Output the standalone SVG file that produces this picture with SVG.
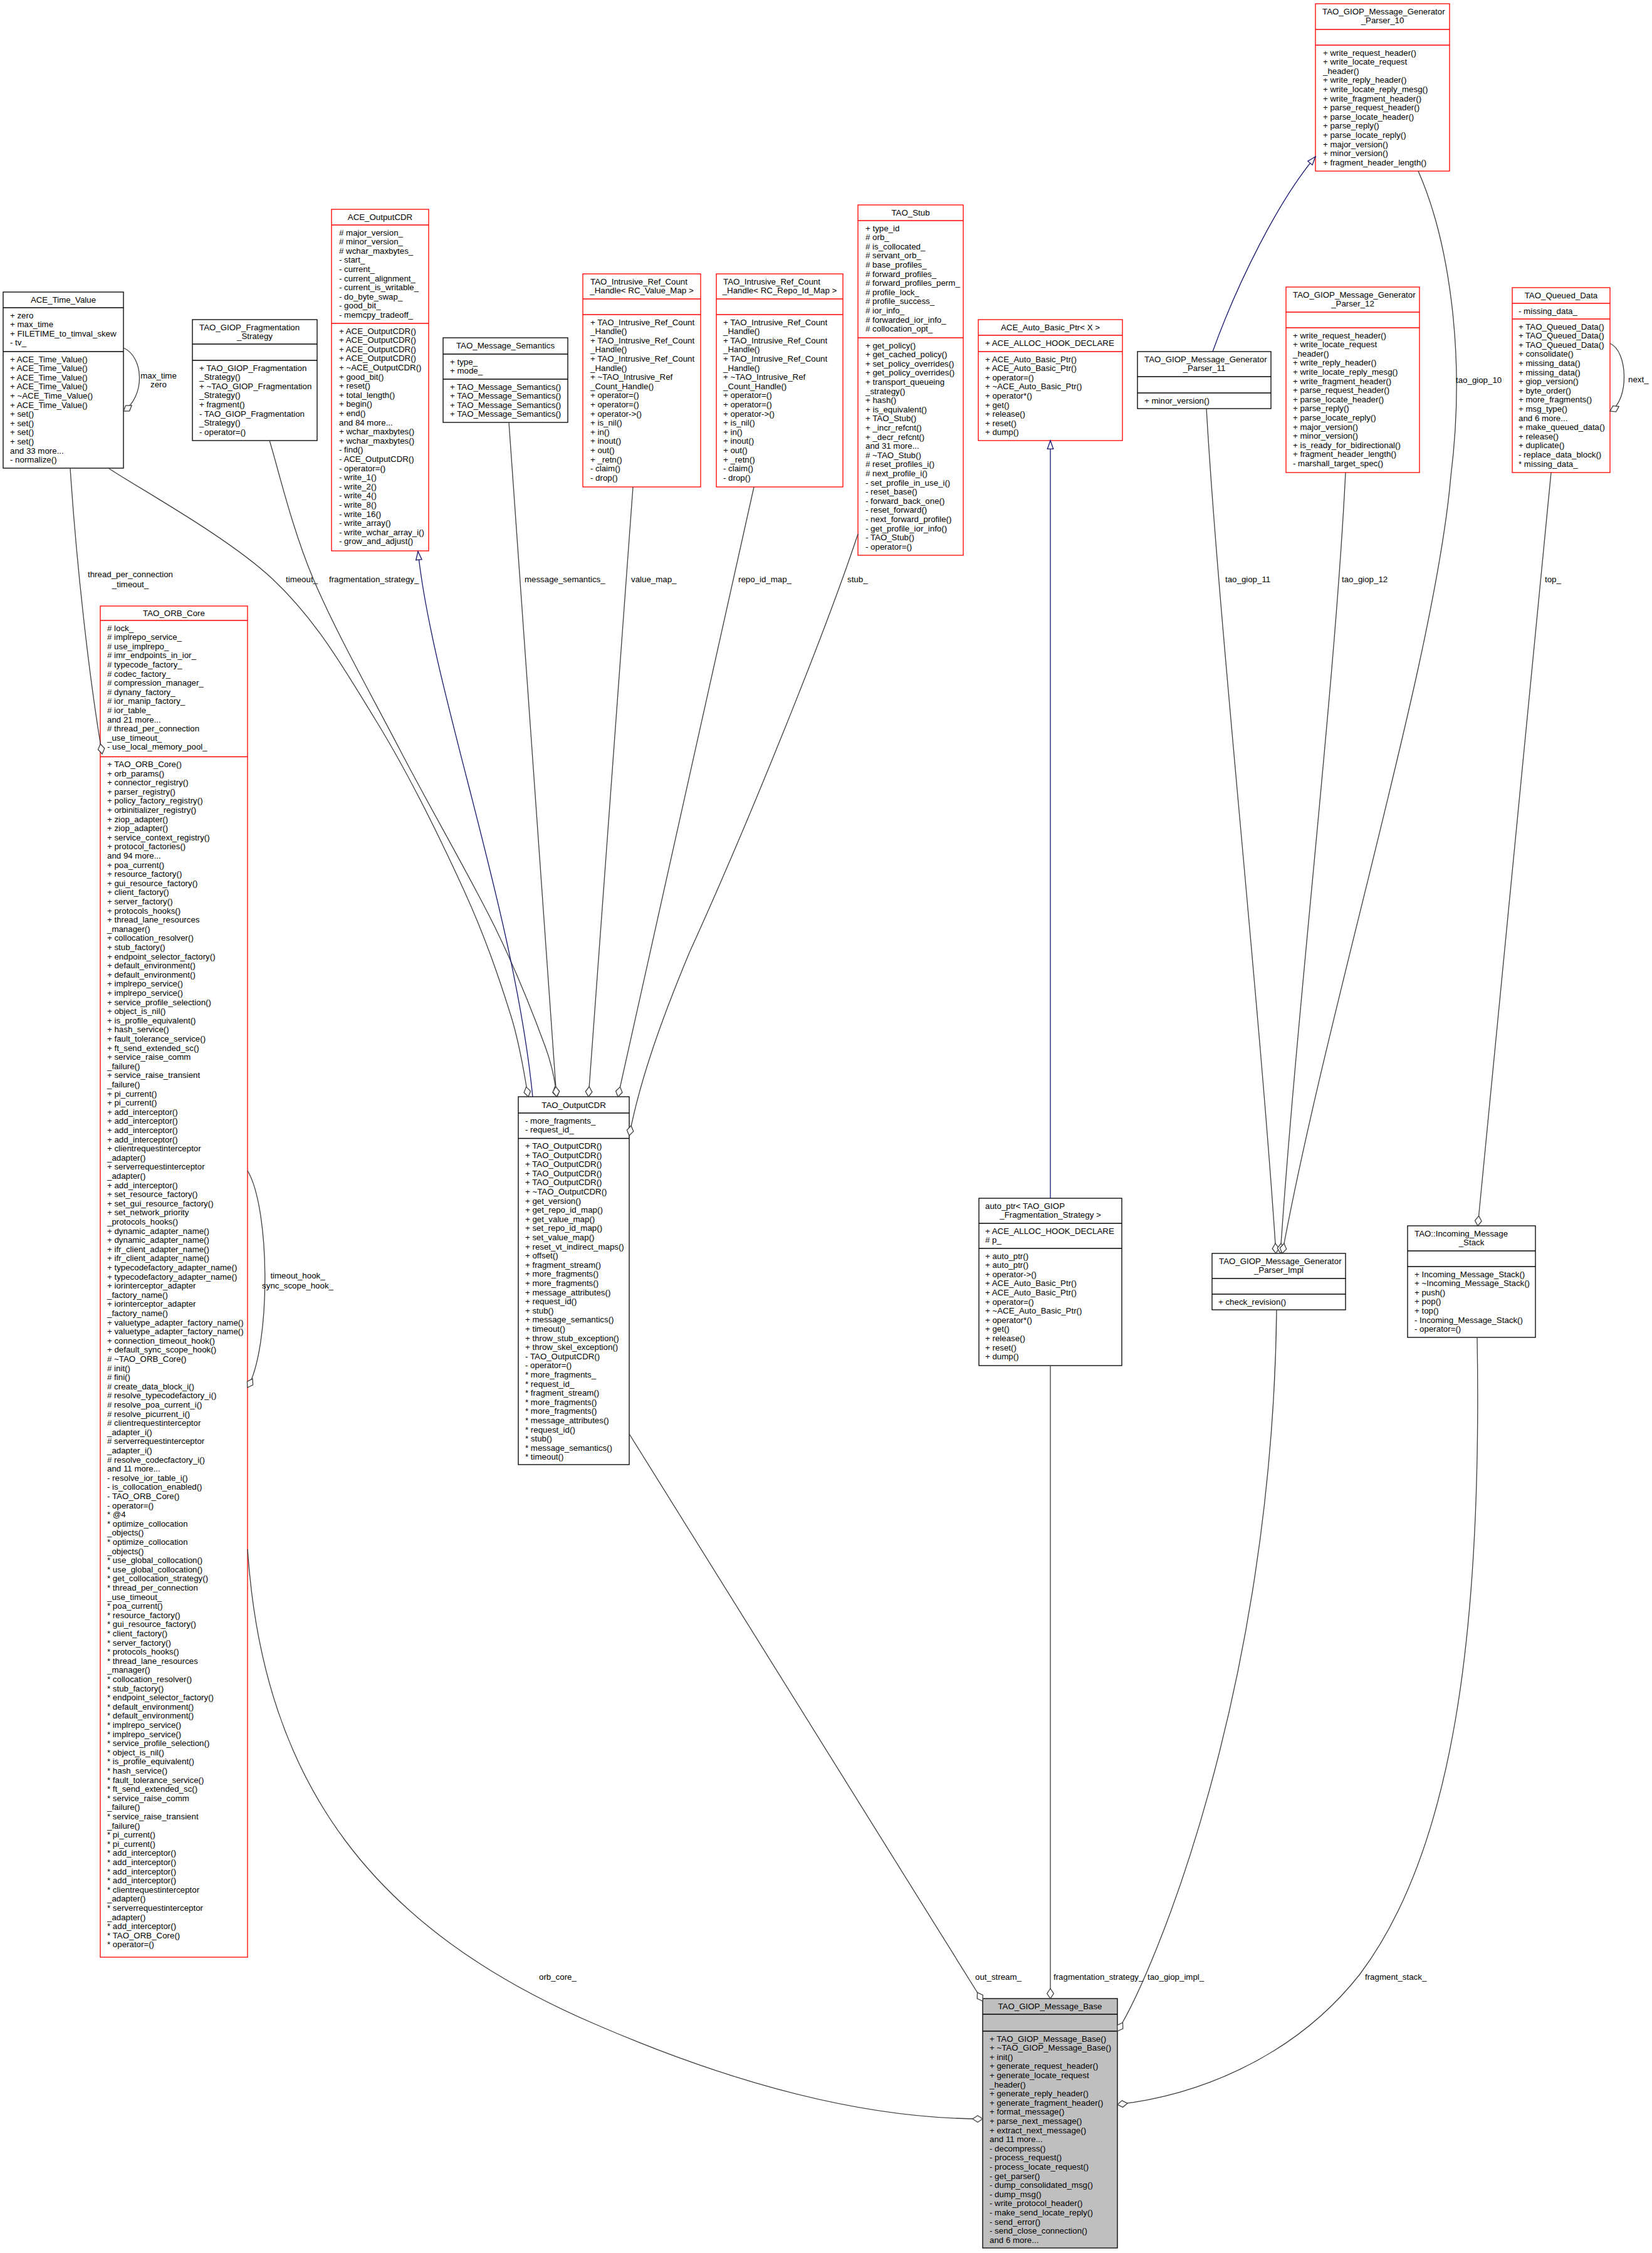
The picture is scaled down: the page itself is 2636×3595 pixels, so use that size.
<svg xmlns="http://www.w3.org/2000/svg" width="2636" height="3595" viewBox="0 0 2636 3595">
<style>
text{font-family:'Liberation Sans',Arial,Helvetica,sans-serif;font-size:13.3px;fill:#000}
.mid{text-anchor:middle}
.box{fill:#fff;stroke-width:1.33}
.red{stroke:#ff0000;fill:none;stroke-width:1.33}
.blk{stroke:#000;fill:none;stroke-width:1.33}
.main{fill:#bfbfbf;stroke:#000;stroke-width:1.33}
.edge{fill:none;stroke:#404040;stroke-width:1.33}
.inh{fill:none;stroke:#191970;stroke-width:1.33}
</style>
<defs>
<marker id="dia" markerUnits="userSpaceOnUse" viewBox="-2 -8 20 16" markerWidth="20" markerHeight="16" refX="16" refY="0" orient="auto">
<path d="M0,0 L8,-5.3 L16,0 L8,5.3 Z" fill="#fff" stroke="#404040" stroke-width="1.33"/>
</marker>
<marker id="tri" markerUnits="userSpaceOnUse" viewBox="-2 -7 17 14" markerWidth="17" markerHeight="14" refX="13.3" refY="0" orient="auto">
<path d="M0,-4.7 L13.3,0 L0,4.7 Z" fill="#fff" stroke="#191970" stroke-width="1.33"/>
</marker>
</defs>
<rect width="2636" height="3595" fill="#fff"/>

<g id="node-parser10">
<rect class="box red" x="2099" y="6" width="214" height="267"/>
<path class="red" d="M2099,47H2313M2099,72H2313"/>
<text x="2110" y="22.5">TAO_GIOP_Message_Generator</text>
<text class="mid" x="2206" y="37.1">_Parser_10</text>
<text y="88.5"><tspan x="2111">+ write_request_header()</tspan><tspan x="2111" dy="14.6">+ write_locate_request</tspan><tspan x="2111" dy="14.6">_header()</tspan><tspan x="2111" dy="14.6">+ write_reply_header()</tspan><tspan x="2111" dy="14.6">+ write_locate_reply_mesg()</tspan><tspan x="2111" dy="14.6">+ write_fragment_header()</tspan><tspan x="2111" dy="14.6">+ parse_request_header()</tspan><tspan x="2111" dy="14.6">+ parse_locate_header()</tspan><tspan x="2111" dy="14.6">+ parse_reply()</tspan><tspan x="2111" dy="14.6">+ parse_locate_reply()</tspan><tspan x="2111" dy="14.6">+ major_version()</tspan><tspan x="2111" dy="14.6">+ minor_version()</tspan><tspan x="2111" dy="14.6">+ fragment_header_length()</tspan></text>
</g>

<g id="node-ace-time-value">
<rect class="box blk" x="5" y="466" width="192" height="281"/>
<path class="blk" d="M5,491H197M5,561H197"/>
<text class="mid" x="101" y="482.5">ACE_Time_Value</text>
<text y="507.5"><tspan x="16">+ zero</tspan><tspan x="16" dy="14.6">+ max_time</tspan><tspan x="16" dy="14.6">+ FILETIME_to_timval_skew</tspan><tspan x="16" dy="14.6">- tv_</tspan></text>
<text y="577.5"><tspan x="16">+ ACE_Time_Value()</tspan><tspan x="16" dy="14.6">+ ACE_Time_Value()</tspan><tspan x="16" dy="14.6">+ ACE_Time_Value()</tspan><tspan x="16" dy="14.6">+ ACE_Time_Value()</tspan><tspan x="16" dy="14.6">+ ~ACE_Time_Value()</tspan><tspan x="16" dy="14.6">+ ACE_Time_Value()</tspan><tspan x="16" dy="14.6">+ set()</tspan><tspan x="16" dy="14.6">+ set()</tspan><tspan x="16" dy="14.6">+ set()</tspan><tspan x="16" dy="14.6">+ set()</tspan><tspan x="16" dy="14.6">and 33 more...</tspan><tspan x="16" dy="14.6">- normalize()</tspan></text>
</g>

<g id="node-frag-strategy">
<rect class="box blk" x="307" y="510" width="199" height="193"/>
<path class="blk" d="M307,549H506M307,575H506"/>
<text x="318" y="526.5">TAO_GIOP_Fragmentation</text>
<text class="mid" x="406.5" y="541.1">_Strategy</text>
<text y="591.5"><tspan x="318">+ TAO_GIOP_Fragmentation</tspan><tspan x="318" dy="14.6">_Strategy()</tspan><tspan x="318" dy="14.6">+ ~TAO_GIOP_Fragmentation</tspan><tspan x="318" dy="14.6">_Strategy()</tspan><tspan x="318" dy="14.6">+ fragment()</tspan><tspan x="318" dy="14.6">- TAO_GIOP_Fragmentation</tspan><tspan x="318" dy="14.6">_Strategy()</tspan><tspan x="318" dy="14.6">- operator=()</tspan></text>
</g>

<g id="node-ace-outputcdr">
<rect class="box red" x="529" y="334" width="155" height="545"/>
<path class="red" d="M529,359H684M529,516H684"/>
<text class="mid" x="606.5" y="350.5">ACE_OutputCDR</text>
<text y="375.5"><tspan x="541"># major_version_</tspan><tspan x="541" dy="14.6"># minor_version_</tspan><tspan x="541" dy="14.6"># wchar_maxbytes_</tspan><tspan x="541" dy="14.6">- start_</tspan><tspan x="541" dy="14.6">- current_</tspan><tspan x="541" dy="14.6">- current_alignment_</tspan><tspan x="541" dy="14.6">- current_is_writable_</tspan><tspan x="541" dy="14.6">- do_byte_swap_</tspan><tspan x="541" dy="14.6">- good_bit_</tspan><tspan x="541" dy="14.6">- memcpy_tradeoff_</tspan></text>
<text y="532.5"><tspan x="541">+ ACE_OutputCDR()</tspan><tspan x="541" dy="14.6">+ ACE_OutputCDR()</tspan><tspan x="541" dy="14.6">+ ACE_OutputCDR()</tspan><tspan x="541" dy="14.6">+ ACE_OutputCDR()</tspan><tspan x="541" dy="14.6">+ ~ACE_OutputCDR()</tspan><tspan x="541" dy="14.6">+ good_bit()</tspan><tspan x="541" dy="14.6">+ reset()</tspan><tspan x="541" dy="14.6">+ total_length()</tspan><tspan x="541" dy="14.6">+ begin()</tspan><tspan x="541" dy="14.6">+ end()</tspan><tspan x="541" dy="14.6">and 84 more...</tspan><tspan x="541" dy="14.6">+ wchar_maxbytes()</tspan><tspan x="541" dy="14.6">+ wchar_maxbytes()</tspan><tspan x="541" dy="14.6">- find()</tspan><tspan x="541" dy="14.6">- ACE_OutputCDR()</tspan><tspan x="541" dy="14.6">- operator=()</tspan><tspan x="541" dy="14.6">- write_1()</tspan><tspan x="541" dy="14.6">- write_2()</tspan><tspan x="541" dy="14.6">- write_4()</tspan><tspan x="541" dy="14.6">- write_8()</tspan><tspan x="541" dy="14.6">- write_16()</tspan><tspan x="541" dy="14.6">- write_array()</tspan><tspan x="541" dy="14.6">- write_wchar_array_i()</tspan><tspan x="541" dy="14.6">- grow_and_adjust()</tspan></text>
</g>

<g id="node-message-semantics">
<rect class="box blk" x="707" y="539" width="199" height="135"/>
<path class="blk" d="M707,565H906M707,605H906"/>
<text class="mid" x="806.5" y="555.5">TAO_Message_Semantics</text>
<text y="581.5"><tspan x="718">+ type_</tspan><tspan x="718" dy="14.6">+ mode_</tspan></text>
<text y="621.5"><tspan x="718">+ TAO_Message_Semantics()</tspan><tspan x="718" dy="14.6">+ TAO_Message_Semantics()</tspan><tspan x="718" dy="14.6">+ TAO_Message_Semantics()</tspan><tspan x="718" dy="14.6">+ TAO_Message_Semantics()</tspan></text>
</g>

<g id="node-handle-value-map">
<rect class="box red" x="930" y="437" width="188" height="340"/>
<path class="red" d="M930,477H1118M930,502H1118"/>
<text x="942" y="453.5">TAO_Intrusive_Ref_Count</text>
<text class="mid" x="1024" y="468.1">_Handle&lt; RC_Value_Map &gt;</text>
<text y="518.5"><tspan x="942">+ TAO_Intrusive_Ref_Count</tspan><tspan x="942" dy="14.6">_Handle()</tspan><tspan x="942" dy="14.6">+ TAO_Intrusive_Ref_Count</tspan><tspan x="942" dy="14.6">_Handle()</tspan><tspan x="942" dy="14.6">+ TAO_Intrusive_Ref_Count</tspan><tspan x="942" dy="14.6">_Handle()</tspan><tspan x="942" dy="14.6">+ ~TAO_Intrusive_Ref</tspan><tspan x="942" dy="14.6">_Count_Handle()</tspan><tspan x="942" dy="14.6">+ operator=()</tspan><tspan x="942" dy="14.6">+ operator=()</tspan><tspan x="942" dy="14.6">+ operator-&gt;()</tspan><tspan x="942" dy="14.6">+ is_nil()</tspan><tspan x="942" dy="14.6">+ in()</tspan><tspan x="942" dy="14.6">+ inout()</tspan><tspan x="942" dy="14.6">+ out()</tspan><tspan x="942" dy="14.6">+ _retn()</tspan><tspan x="942" dy="14.6">- claim()</tspan><tspan x="942" dy="14.6">- drop()</tspan></text>
</g>

<g id="node-handle-repo-id-map">
<rect class="box red" x="1143" y="437" width="202" height="340"/>
<path class="red" d="M1143,477H1345M1143,502H1345"/>
<text x="1154" y="453.5">TAO_Intrusive_Ref_Count</text>
<text class="mid" x="1244" y="468.1">_Handle&lt; RC_Repo_Id_Map &gt;</text>
<text y="518.5"><tspan x="1154">+ TAO_Intrusive_Ref_Count</tspan><tspan x="1154" dy="14.6">_Handle()</tspan><tspan x="1154" dy="14.6">+ TAO_Intrusive_Ref_Count</tspan><tspan x="1154" dy="14.6">_Handle()</tspan><tspan x="1154" dy="14.6">+ TAO_Intrusive_Ref_Count</tspan><tspan x="1154" dy="14.6">_Handle()</tspan><tspan x="1154" dy="14.6">+ ~TAO_Intrusive_Ref</tspan><tspan x="1154" dy="14.6">_Count_Handle()</tspan><tspan x="1154" dy="14.6">+ operator=()</tspan><tspan x="1154" dy="14.6">+ operator=()</tspan><tspan x="1154" dy="14.6">+ operator-&gt;()</tspan><tspan x="1154" dy="14.6">+ is_nil()</tspan><tspan x="1154" dy="14.6">+ in()</tspan><tspan x="1154" dy="14.6">+ inout()</tspan><tspan x="1154" dy="14.6">+ out()</tspan><tspan x="1154" dy="14.6">+ _retn()</tspan><tspan x="1154" dy="14.6">- claim()</tspan><tspan x="1154" dy="14.6">- drop()</tspan></text>
</g>

<g id="node-tao-stub">
<rect class="box red" x="1369" y="327" width="168" height="559"/>
<path class="red" d="M1369,352H1537M1369,539H1537"/>
<text class="mid" x="1453" y="343.5">TAO_Stub</text>
<text y="368.5"><tspan x="1381">+ type_id</tspan><tspan x="1381" dy="14.6"># orb_</tspan><tspan x="1381" dy="14.6"># is_collocated_</tspan><tspan x="1381" dy="14.6"># servant_orb_</tspan><tspan x="1381" dy="14.6"># base_profiles_</tspan><tspan x="1381" dy="14.6"># forward_profiles_</tspan><tspan x="1381" dy="14.6"># forward_profiles_perm_</tspan><tspan x="1381" dy="14.6"># profile_lock_</tspan><tspan x="1381" dy="14.6"># profile_success_</tspan><tspan x="1381" dy="14.6"># ior_info_</tspan><tspan x="1381" dy="14.6"># forwarded_ior_info_</tspan><tspan x="1381" dy="14.6"># collocation_opt_</tspan></text>
<text y="555.5"><tspan x="1381">+ get_policy()</tspan><tspan x="1381" dy="14.6">+ get_cached_policy()</tspan><tspan x="1381" dy="14.6">+ set_policy_overrides()</tspan><tspan x="1381" dy="14.6">+ get_policy_overrides()</tspan><tspan x="1381" dy="14.6">+ transport_queueing</tspan><tspan x="1381" dy="14.6">_strategy()</tspan><tspan x="1381" dy="14.6">+ hash()</tspan><tspan x="1381" dy="14.6">+ is_equivalent()</tspan><tspan x="1381" dy="14.6">+ TAO_Stub()</tspan><tspan x="1381" dy="14.6">+ _incr_refcnt()</tspan><tspan x="1381" dy="14.6">+ _decr_refcnt()</tspan><tspan x="1381" dy="14.6">and 31 more...</tspan><tspan x="1381" dy="14.6"># ~TAO_Stub()</tspan><tspan x="1381" dy="14.6"># reset_profiles_i()</tspan><tspan x="1381" dy="14.6"># next_profile_i()</tspan><tspan x="1381" dy="14.6">- set_profile_in_use_i()</tspan><tspan x="1381" dy="14.6">- reset_base()</tspan><tspan x="1381" dy="14.6">- forward_back_one()</tspan><tspan x="1381" dy="14.6">- reset_forward()</tspan><tspan x="1381" dy="14.6">- next_forward_profile()</tspan><tspan x="1381" dy="14.6">- get_profile_ior_info()</tspan><tspan x="1381" dy="14.6">- TAO_Stub()</tspan><tspan x="1381" dy="14.6">- operator=()</tspan></text>
</g>

<g id="node-ace-auto-basic-ptr">
<rect class="box red" x="1561" y="510" width="230" height="193"/>
<path class="red" d="M1561,535H1791M1561,561H1791"/>
<text class="mid" x="1676" y="526.5">ACE_Auto_Basic_Ptr&lt; X &gt;</text>
<text x="1572" y="551.5">+ ACE_ALLOC_HOOK_DECLARE</text>
<text y="577.5"><tspan x="1572">+ ACE_Auto_Basic_Ptr()</tspan><tspan x="1572" dy="14.6">+ ACE_Auto_Basic_Ptr()</tspan><tspan x="1572" dy="14.6">+ operator=()</tspan><tspan x="1572" dy="14.6">+ ~ACE_Auto_Basic_Ptr()</tspan><tspan x="1572" dy="14.6">+ operator*()</tspan><tspan x="1572" dy="14.6">+ get()</tspan><tspan x="1572" dy="14.6">+ release()</tspan><tspan x="1572" dy="14.6">+ reset()</tspan><tspan x="1572" dy="14.6">+ dump()</tspan></text>
</g>

<g id="node-parser11">
<rect class="box blk" x="1815" y="561" width="213" height="91"/>
<path class="blk" d="M1815,601H2028M1815,627H2028"/>
<text x="1826" y="577.5">TAO_GIOP_Message_Generator</text>
<text class="mid" x="1921.5" y="592.1">_Parser_11</text>
<text x="1826" y="643.5">+ minor_version()</text>
</g>

<g id="node-parser12">
<rect class="box red" x="2052" y="458" width="213" height="296"/>
<path class="red" d="M2052,498H2265M2052,523H2265"/>
<text x="2063" y="474.5">TAO_GIOP_Message_Generator</text>
<text class="mid" x="2158.5" y="489.1">_Parser_12</text>
<text y="539.5"><tspan x="2063">+ write_request_header()</tspan><tspan x="2063" dy="14.6">+ write_locate_request</tspan><tspan x="2063" dy="14.6">_header()</tspan><tspan x="2063" dy="14.6">+ write_reply_header()</tspan><tspan x="2063" dy="14.6">+ write_locate_reply_mesg()</tspan><tspan x="2063" dy="14.6">+ write_fragment_header()</tspan><tspan x="2063" dy="14.6">+ parse_request_header()</tspan><tspan x="2063" dy="14.6">+ parse_locate_header()</tspan><tspan x="2063" dy="14.6">+ parse_reply()</tspan><tspan x="2063" dy="14.6">+ parse_locate_reply()</tspan><tspan x="2063" dy="14.6">+ major_version()</tspan><tspan x="2063" dy="14.6">+ minor_version()</tspan><tspan x="2063" dy="14.6">+ is_ready_for_bidirectional()</tspan><tspan x="2063" dy="14.6">+ fragment_header_length()</tspan><tspan x="2063" dy="14.6">- marshall_target_spec()</tspan></text>
</g>

<g id="node-queued-data">
<rect class="box red" x="2413" y="459" width="156" height="295"/>
<path class="red" d="M2413,484H2569M2413,509H2569"/>
<text class="mid" x="2491" y="475.5">TAO_Queued_Data</text>
<text x="2423" y="500.5">- missing_data_</text>
<text y="525.5"><tspan x="2423">+ TAO_Queued_Data()</tspan><tspan x="2423" dy="14.6">+ TAO_Queued_Data()</tspan><tspan x="2423" dy="14.6">+ TAO_Queued_Data()</tspan><tspan x="2423" dy="14.6">+ consolidate()</tspan><tspan x="2423" dy="14.6">+ missing_data()</tspan><tspan x="2423" dy="14.6">+ missing_data()</tspan><tspan x="2423" dy="14.6">+ giop_version()</tspan><tspan x="2423" dy="14.6">+ byte_order()</tspan><tspan x="2423" dy="14.6">+ more_fragments()</tspan><tspan x="2423" dy="14.6">+ msg_type()</tspan><tspan x="2423" dy="14.6">and 6 more...</tspan><tspan x="2423" dy="14.6">+ make_queued_data()</tspan><tspan x="2423" dy="14.6">+ release()</tspan><tspan x="2423" dy="14.6">+ duplicate()</tspan><tspan x="2423" dy="14.6">- replace_data_block()</tspan><tspan x="2423" dy="14.6">* missing_data_</tspan></text>
</g>

<g id="node-orb-core">
<rect class="box red" x="160" y="967" width="235" height="2156"/>
<path class="red" d="M160,990H395M160,1207.5H395"/>
<text class="mid" x="277.5" y="982.5">TAO_ORB_Core</text>
<text y="1006.5"><tspan x="171"># lock_</tspan><tspan x="171" dy="14.6"># implrepo_service_</tspan><tspan x="171" dy="14.6"># use_implrepo_</tspan><tspan x="171" dy="14.6"># imr_endpoints_in_ior_</tspan><tspan x="171" dy="14.6"># typecode_factory_</tspan><tspan x="171" dy="14.6"># codec_factory_</tspan><tspan x="171" dy="14.6"># compression_manager_</tspan><tspan x="171" dy="14.6"># dynany_factory_</tspan><tspan x="171" dy="14.6"># ior_manip_factory_</tspan><tspan x="171" dy="14.6"># ior_table_</tspan><tspan x="171" dy="14.6">and 21 more...</tspan><tspan x="171" dy="14.6"># thread_per_connection</tspan><tspan x="171" dy="14.6">_use_timeout_</tspan><tspan x="171" dy="14.6">- use_local_memory_pool_</tspan></text>
<text y="1224"><tspan x="171">+ TAO_ORB_Core()</tspan><tspan x="171" dy="14.6">+ orb_params()</tspan><tspan x="171" dy="14.6">+ connector_registry()</tspan><tspan x="171" dy="14.6">+ parser_registry()</tspan><tspan x="171" dy="14.6">+ policy_factory_registry()</tspan><tspan x="171" dy="14.6">+ orbinitializer_registry()</tspan><tspan x="171" dy="14.6">+ ziop_adapter()</tspan><tspan x="171" dy="14.6">+ ziop_adapter()</tspan><tspan x="171" dy="14.6">+ service_context_registry()</tspan><tspan x="171" dy="14.6">+ protocol_factories()</tspan><tspan x="171" dy="14.6">and 94 more...</tspan><tspan x="171" dy="14.6">+ poa_current()</tspan><tspan x="171" dy="14.6">+ resource_factory()</tspan><tspan x="171" dy="14.6">+ gui_resource_factory()</tspan><tspan x="171" dy="14.6">+ client_factory()</tspan><tspan x="171" dy="14.6">+ server_factory()</tspan><tspan x="171" dy="14.6">+ protocols_hooks()</tspan><tspan x="171" dy="14.6">+ thread_lane_resources</tspan><tspan x="171" dy="14.6">_manager()</tspan><tspan x="171" dy="14.6">+ collocation_resolver()</tspan><tspan x="171" dy="14.6">+ stub_factory()</tspan><tspan x="171" dy="14.6">+ endpoint_selector_factory()</tspan><tspan x="171" dy="14.6">+ default_environment()</tspan><tspan x="171" dy="14.6">+ default_environment()</tspan><tspan x="171" dy="14.6">+ implrepo_service()</tspan><tspan x="171" dy="14.6">+ implrepo_service()</tspan><tspan x="171" dy="14.6">+ service_profile_selection()</tspan><tspan x="171" dy="14.6">+ object_is_nil()</tspan><tspan x="171" dy="14.6">+ is_profile_equivalent()</tspan><tspan x="171" dy="14.6">+ hash_service()</tspan><tspan x="171" dy="14.6">+ fault_tolerance_service()</tspan><tspan x="171" dy="14.6">+ ft_send_extended_sc()</tspan><tspan x="171" dy="14.6">+ service_raise_comm</tspan><tspan x="171" dy="14.6">_failure()</tspan><tspan x="171" dy="14.6">+ service_raise_transient</tspan><tspan x="171" dy="14.6">_failure()</tspan><tspan x="171" dy="14.6">+ pi_current()</tspan><tspan x="171" dy="14.6">+ pi_current()</tspan><tspan x="171" dy="14.6">+ add_interceptor()</tspan><tspan x="171" dy="14.6">+ add_interceptor()</tspan><tspan x="171" dy="14.6">+ add_interceptor()</tspan><tspan x="171" dy="14.6">+ add_interceptor()</tspan><tspan x="171" dy="14.6">+ clientrequestinterceptor</tspan><tspan x="171" dy="14.6">_adapter()</tspan><tspan x="171" dy="14.6">+ serverrequestinterceptor</tspan><tspan x="171" dy="14.6">_adapter()</tspan><tspan x="171" dy="14.6">+ add_interceptor()</tspan><tspan x="171" dy="14.6">+ set_resource_factory()</tspan><tspan x="171" dy="14.6">+ set_gui_resource_factory()</tspan><tspan x="171" dy="14.6">+ set_network_priority</tspan><tspan x="171" dy="14.6">_protocols_hooks()</tspan><tspan x="171" dy="14.6">+ dynamic_adapter_name()</tspan><tspan x="171" dy="14.6">+ dynamic_adapter_name()</tspan><tspan x="171" dy="14.6">+ ifr_client_adapter_name()</tspan><tspan x="171" dy="14.6">+ ifr_client_adapter_name()</tspan><tspan x="171" dy="14.6">+ typecodefactory_adapter_name()</tspan><tspan x="171" dy="14.6">+ typecodefactory_adapter_name()</tspan><tspan x="171" dy="14.6">+ iorinterceptor_adapter</tspan><tspan x="171" dy="14.6">_factory_name()</tspan><tspan x="171" dy="14.6">+ iorinterceptor_adapter</tspan><tspan x="171" dy="14.6">_factory_name()</tspan><tspan x="171" dy="14.6">+ valuetype_adapter_factory_name()</tspan><tspan x="171" dy="14.6">+ valuetype_adapter_factory_name()</tspan><tspan x="171" dy="14.6">+ connection_timeout_hook()</tspan><tspan x="171" dy="14.6">+ default_sync_scope_hook()</tspan><tspan x="171" dy="14.6"># ~TAO_ORB_Core()</tspan><tspan x="171" dy="14.6"># init()</tspan><tspan x="171" dy="14.6"># fini()</tspan><tspan x="171" dy="14.6"># create_data_block_i()</tspan><tspan x="171" dy="14.6"># resolve_typecodefactory_i()</tspan><tspan x="171" dy="14.6"># resolve_poa_current_i()</tspan><tspan x="171" dy="14.6"># resolve_picurrent_i()</tspan><tspan x="171" dy="14.6"># clientrequestinterceptor</tspan><tspan x="171" dy="14.6">_adapter_i()</tspan><tspan x="171" dy="14.6"># serverrequestinterceptor</tspan><tspan x="171" dy="14.6">_adapter_i()</tspan><tspan x="171" dy="14.6"># resolve_codecfactory_i()</tspan><tspan x="171" dy="14.6">and 11 more...</tspan><tspan x="171" dy="14.6">- resolve_ior_table_i()</tspan><tspan x="171" dy="14.6">- is_collocation_enabled()</tspan><tspan x="171" dy="14.6">- TAO_ORB_Core()</tspan><tspan x="171" dy="14.6">- operator=()</tspan><tspan x="171" dy="14.6">* @4</tspan><tspan x="171" dy="14.6">* optimize_collocation</tspan><tspan x="171" dy="14.6">_objects()</tspan><tspan x="171" dy="14.6">* optimize_collocation</tspan><tspan x="171" dy="14.6">_objects()</tspan><tspan x="171" dy="14.6">* use_global_collocation()</tspan><tspan x="171" dy="14.6">* use_global_collocation()</tspan><tspan x="171" dy="14.6">* get_collocation_strategy()</tspan><tspan x="171" dy="14.6">* thread_per_connection</tspan><tspan x="171" dy="14.6">_use_timeout_</tspan><tspan x="171" dy="14.6">* poa_current()</tspan><tspan x="171" dy="14.6">* resource_factory()</tspan><tspan x="171" dy="14.6">* gui_resource_factory()</tspan><tspan x="171" dy="14.6">* client_factory()</tspan><tspan x="171" dy="14.6">* server_factory()</tspan><tspan x="171" dy="14.6">* protocols_hooks()</tspan><tspan x="171" dy="14.6">* thread_lane_resources</tspan><tspan x="171" dy="14.6">_manager()</tspan><tspan x="171" dy="14.6">* collocation_resolver()</tspan><tspan x="171" dy="14.6">* stub_factory()</tspan><tspan x="171" dy="14.6">* endpoint_selector_factory()</tspan><tspan x="171" dy="14.6">* default_environment()</tspan><tspan x="171" dy="14.6">* default_environment()</tspan><tspan x="171" dy="14.6">* implrepo_service()</tspan><tspan x="171" dy="14.6">* implrepo_service()</tspan><tspan x="171" dy="14.6">* service_profile_selection()</tspan><tspan x="171" dy="14.6">* object_is_nil()</tspan><tspan x="171" dy="14.6">* is_profile_equivalent()</tspan><tspan x="171" dy="14.6">* hash_service()</tspan><tspan x="171" dy="14.6">* fault_tolerance_service()</tspan><tspan x="171" dy="14.6">* ft_send_extended_sc()</tspan><tspan x="171" dy="14.6">* service_raise_comm</tspan><tspan x="171" dy="14.6">_failure()</tspan><tspan x="171" dy="14.6">* service_raise_transient</tspan><tspan x="171" dy="14.6">_failure()</tspan><tspan x="171" dy="14.6">* pi_current()</tspan><tspan x="171" dy="14.6">* pi_current()</tspan><tspan x="171" dy="14.6">* add_interceptor()</tspan><tspan x="171" dy="14.6">* add_interceptor()</tspan><tspan x="171" dy="14.6">* add_interceptor()</tspan><tspan x="171" dy="14.6">* add_interceptor()</tspan><tspan x="171" dy="14.6">* clientrequestinterceptor</tspan><tspan x="171" dy="14.6">_adapter()</tspan><tspan x="171" dy="14.6">* serverrequestinterceptor</tspan><tspan x="171" dy="14.6">_adapter()</tspan><tspan x="171" dy="14.6">* add_interceptor()</tspan><tspan x="171" dy="14.6">* TAO_ORB_Core()</tspan><tspan x="171" dy="14.6">* operator=()</tspan></text>
</g>

<g id="node-tao-outputcdr">
<rect class="box blk" x="827" y="1750" width="177" height="587"/>
<path class="blk" d="M827,1776H1004M827,1816.5H1004"/>
<text class="mid" x="915.5" y="1767.5">TAO_OutputCDR</text>
<text y="1792.5"><tspan x="838">- more_fragments_</tspan><tspan x="838" dy="14.6">- request_id_</tspan></text>
<text y="1833"><tspan x="838">+ TAO_OutputCDR()</tspan><tspan x="838" dy="14.6">+ TAO_OutputCDR()</tspan><tspan x="838" dy="14.6">+ TAO_OutputCDR()</tspan><tspan x="838" dy="14.6">+ TAO_OutputCDR()</tspan><tspan x="838" dy="14.6">+ TAO_OutputCDR()</tspan><tspan x="838" dy="14.6">+ ~TAO_OutputCDR()</tspan><tspan x="838" dy="14.6">+ get_version()</tspan><tspan x="838" dy="14.6">+ get_repo_id_map()</tspan><tspan x="838" dy="14.6">+ get_value_map()</tspan><tspan x="838" dy="14.6">+ set_repo_id_map()</tspan><tspan x="838" dy="14.6">+ set_value_map()</tspan><tspan x="838" dy="14.6">+ reset_vt_indirect_maps()</tspan><tspan x="838" dy="14.6">+ offset()</tspan><tspan x="838" dy="14.6">+ fragment_stream()</tspan><tspan x="838" dy="14.6">+ more_fragments()</tspan><tspan x="838" dy="14.6">+ more_fragments()</tspan><tspan x="838" dy="14.6">+ message_attributes()</tspan><tspan x="838" dy="14.6">+ request_id()</tspan><tspan x="838" dy="14.6">+ stub()</tspan><tspan x="838" dy="14.6">+ message_semantics()</tspan><tspan x="838" dy="14.6">+ timeout()</tspan><tspan x="838" dy="14.6">+ throw_stub_exception()</tspan><tspan x="838" dy="14.6">+ throw_skel_exception()</tspan><tspan x="838" dy="14.6">- TAO_OutputCDR()</tspan><tspan x="838" dy="14.6">- operator=()</tspan><tspan x="838" dy="14.6">* more_fragments_</tspan><tspan x="838" dy="14.6">* request_id_</tspan><tspan x="838" dy="14.6">* fragment_stream()</tspan><tspan x="838" dy="14.6">* more_fragments()</tspan><tspan x="838" dy="14.6">* more_fragments()</tspan><tspan x="838" dy="14.6">* message_attributes()</tspan><tspan x="838" dy="14.6">* request_id()</tspan><tspan x="838" dy="14.6">* stub()</tspan><tspan x="838" dy="14.6">* message_semantics()</tspan><tspan x="838" dy="14.6">* timeout()</tspan></text>
</g>

<g id="node-auto-ptr">
<rect class="box blk" x="1562" y="1912" width="228" height="267"/>
<path class="blk" d="M1562,1952H1790M1562,1992H1790"/>
<text x="1572" y="1928.5">auto_ptr&lt; TAO_GIOP</text>
<text class="mid" x="1676" y="1943.1">_Fragmentation_Strategy &gt;</text>
<text y="1968.5"><tspan x="1572">+ ACE_ALLOC_HOOK_DECLARE</tspan><tspan x="1572" dy="14.6"># p_</tspan></text>
<text y="2008.5"><tspan x="1572">+ auto_ptr()</tspan><tspan x="1572" dy="14.6">+ auto_ptr()</tspan><tspan x="1572" dy="14.6">+ operator-&gt;()</tspan><tspan x="1572" dy="14.6">+ ACE_Auto_Basic_Ptr()</tspan><tspan x="1572" dy="14.6">+ ACE_Auto_Basic_Ptr()</tspan><tspan x="1572" dy="14.6">+ operator=()</tspan><tspan x="1572" dy="14.6">+ ~ACE_Auto_Basic_Ptr()</tspan><tspan x="1572" dy="14.6">+ operator*()</tspan><tspan x="1572" dy="14.6">+ get()</tspan><tspan x="1572" dy="14.6">+ release()</tspan><tspan x="1572" dy="14.6">+ reset()</tspan><tspan x="1572" dy="14.6">+ dump()</tspan></text>
</g>

<g id="node-parser-impl">
<rect class="box blk" x="1934" y="2000" width="213" height="90"/>
<path class="blk" d="M1934,2040H2147M1934,2065H2147"/>
<text x="1945" y="2016.5">TAO_GIOP_Message_Generator</text>
<text class="mid" x="2040.5" y="2031.1">_Parser_Impl</text>
<text x="1944" y="2081.5">+ check_revision()</text>
</g>

<g id="node-incoming-stack">
<rect class="box blk" x="2246" y="1956" width="204" height="178"/>
<path class="blk" d="M2246,1996H2450M2246,2021H2450"/>
<text x="2257" y="1972.5">TAO::Incoming_Message</text>
<text class="mid" x="2348" y="1987.1">_Stack</text>
<text y="2037.5"><tspan x="2257">+ Incoming_Message_Stack()</tspan><tspan x="2257" dy="14.6">+ ~Incoming_Message_Stack()</tspan><tspan x="2257" dy="14.6">+ push()</tspan><tspan x="2257" dy="14.6">+ pop()</tspan><tspan x="2257" dy="14.6">+ top()</tspan><tspan x="2257" dy="14.6">- Incoming_Message_Stack()</tspan><tspan x="2257" dy="14.6">- operator=()</tspan></text>
</g>

<g id="node-message-base">
<rect class="main" x="1568" y="3189" width="215" height="398"/>
<path class="blk" d="M1568,3214H1783M1568,3241H1783"/>
<text class="mid" x="1675.5" y="3205.5">TAO_GIOP_Message_Base</text>
<text y="3257.5"><tspan x="1579">+ TAO_GIOP_Message_Base()</tspan><tspan x="1579" dy="14.6">+ ~TAO_GIOP_Message_Base()</tspan><tspan x="1579" dy="14.6">+ init()</tspan><tspan x="1579" dy="14.6">+ generate_request_header()</tspan><tspan x="1579" dy="14.6">+ generate_locate_request</tspan><tspan x="1579" dy="14.6">_header()</tspan><tspan x="1579" dy="14.6">+ generate_reply_header()</tspan><tspan x="1579" dy="14.6">+ generate_fragment_header()</tspan><tspan x="1579" dy="14.6">+ format_message()</tspan><tspan x="1579" dy="14.6">+ parse_next_message()</tspan><tspan x="1579" dy="14.6">+ extract_next_message()</tspan><tspan x="1579" dy="14.6">and 11 more...</tspan><tspan x="1579" dy="14.6">- decompress()</tspan><tspan x="1579" dy="14.6">- process_request()</tspan><tspan x="1579" dy="14.6">- process_locate_request()</tspan><tspan x="1579" dy="14.6">- get_parser()</tspan><tspan x="1579" dy="14.6">- dump_consolidated_msg()</tspan><tspan x="1579" dy="14.6">- dump_msg()</tspan><tspan x="1579" dy="14.6">- write_protocol_header()</tspan><tspan x="1579" dy="14.6">- make_send_locate_reply()</tspan><tspan x="1579" dy="14.6">- send_error()</tspan><tspan x="1579" dy="14.6">- send_close_connection()</tspan><tspan x="1579" dy="14.6">and 6 more...</tspan></text>
</g>

<g id="connectors">
<path class="edge" d="M197,555 C230,570 232,632 197,656" marker-end="url(#dia)"/>
<text class="mid" x="253" y="604">max_time</text>
<text class="mid" x="253" y="618">zero</text>

<path class="edge" d="M112,747 C122,900 142,1080 163,1203" marker-end="url(#dia)"/>
<text class="mid" x="208" y="921">thread_per_connection</text>
<text class="mid" x="208" y="937">_timeout_</text>

<path class="edge" d="M173,747 C216.7,776.5 363.8,856.8 435,924 C506.2,991.2 549.2,1067.3 600,1150 C650.8,1232.7 704.2,1341.7 740,1420 C775.8,1498.3 797.8,1565 815,1620 C832.2,1675 838.3,1728.3 843,1750" marker-end="url(#dia)"/>
<text x="456" y="929">timeout_</text>

<path class="edge" d="M430,703 C441.7,739.8 465,841.2 500,924 C535,1006.8 591.7,1107.3 640,1200 C688.3,1292.7 751.7,1401.7 790,1480 C828.3,1558.3 853.5,1625 870,1670 C886.5,1715 885.8,1736.7 889,1750" marker-end="url(#dia)"/>
<text x="525" y="929">fragmentation_strategy_</text>

<path class="inh" d="M850,1750 C820,1450 690,1100 667,880" marker-end="url(#tri)"/>

<path class="edge" d="M812,674 L888,1750" marker-end="url(#dia)"/>
<text x="837" y="929">message_semantics_</text>

<path class="edge" d="M1010,777 L939,1750" marker-end="url(#dia)"/>
<text x="1007" y="929">value_map_</text>

<path class="edge" d="M1203,777 L986,1750" marker-end="url(#dia)"/>
<text x="1178" y="929">repo_id_map_</text>

<path class="edge" d="M1369,852 C1320,1000 1200,1300 1100,1520 C1050,1640 1020,1730 1004,1812" marker-end="url(#dia)"/>
<text x="1352" y="929">stub_</text>

<path class="inh" d="M1935,561 C1975,450 2040,320 2099,250" marker-end="url(#tri)"/>
<path class="inh" d="M1676,1912 L1676,703" marker-end="url(#tri)"/>

<path class="edge" d="M1925,652 C1945,1000 2010,1600 2036,2000" marker-end="url(#dia)"/>
<text x="1955" y="929">tao_giop_11</text>

<path class="edge" d="M2147,754 C2130,1100 2070,1600 2043,2000" marker-end="url(#dia)"/>
<text x="2141" y="929">tao_giop_12</text>

<path class="edge" d="M2263,273 C2310,380 2340,560 2315,760 C2290,1050 2120,1600 2046,2000" marker-end="url(#dia)"/>
<text x="2323" y="611">tao_giop_10</text>

<path class="edge" d="M2475,754 L2358,1956" marker-end="url(#dia)"/>
<text x="2465" y="929">top_</text>

<path class="edge" d="M2569,548 C2598,560 2600,640 2569,656" marker-end="url(#dia)"/>
<text x="2598" y="610">next_</text>

<path class="edge" d="M395,1868 C432,1930 432,2150 395,2214" marker-end="url(#dia)"/>
<text class="mid" x="475" y="2040">timeout_hook_</text>
<text class="mid" x="475" y="2056">sync_scope_hook_</text>

<path class="edge" d="M395,2472 C420,2850 600,3080 950,3230 C1250,3360 1450,3381 1568,3381" marker-end="url(#dia)"/>
<text x="860" y="3159">orb_core_</text>

<path class="edge" d="M1004,2288 L1568,3193" marker-end="url(#dia)"/>
<text x="1556" y="3159">out_stream_</text>

<path class="edge" d="M1676,2179 L1676,3189" marker-end="url(#dia)"/>
<text x="1681" y="3159">fragmentation_strategy_</text>

<path class="edge" d="M2037,2090 C2030,2700 1840,3150 1783,3241" marker-end="url(#dia)"/>
<text x="1831" y="3159">tao_giop_impl_</text>

<path class="edge" d="M2357,2134 C2365,2600 2320,2950 2170,3150 C2060,3290 1900,3345 1783,3358" marker-end="url(#dia)"/>
<text x="2178" y="3159">fragment_stack_</text>
</g>
</svg>
